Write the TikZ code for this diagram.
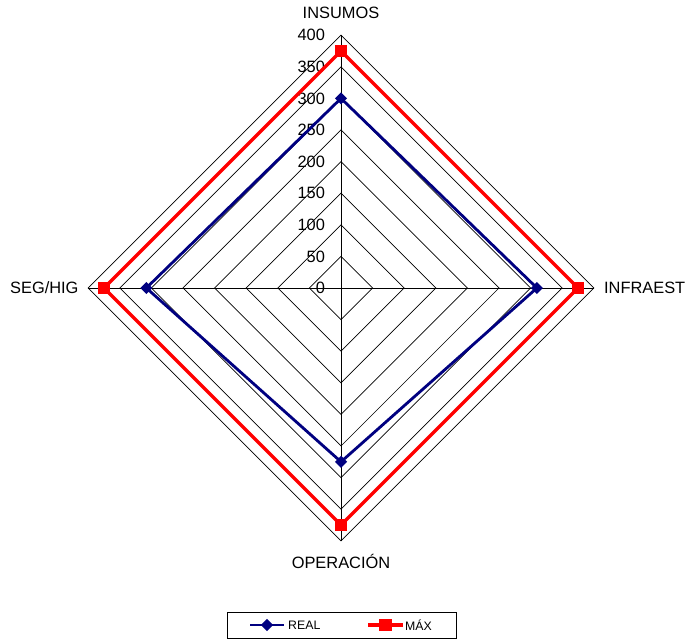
\documentclass[tikz,border=0pt]{standalone}
\usepackage{fontspec}
\setmainfont{Liberation Sans}
\usetikzlibrary{shapes.geometric}
\definecolor{realblue}{RGB}{0,0,128}
\begin{document}
\begin{tikzpicture}
    [x=0.03cm, y=0.03cm,
    grid/.style={black, line width=0.6pt},
    real/.style={realblue, line width=2.4pt, line join=round},
    maxline/.style={red, line width=2.8pt, line join=round},
    realmark/.style={diamond, fill=realblue, inner sep=0pt, minimum width=10.5pt, minimum height=10.5pt},
    maxmark/.style={rectangle, fill=red, inner sep=0pt, minimum size=11pt},
    axislabel/.style={font=\fontsize{14}{16}\selectfont, inner sep=0pt},
    ticklabel/.style={font=\fontsize{14}{16}\selectfont, inner sep=0pt, anchor=east},
    legendlabel/.style={font=\fontsize{10.5}{12}\selectfont, inner sep=0pt, anchor=west}]

    \useasboundingbox (0,0) rectangle (689,640);

    \begin{scope}[shift={(341,352)}, scale=0.632]
        % diamond grid, one ring every 50
        \foreach \r in {50,100,...,400}
            \draw[grid] (0,\r) -- (\r,0) -- (0,-\r) -- (-\r,0) -- cycle;
        \draw[grid] (0,400) -- (0,-400);
        \draw[grid] (-400,0) -- (400,0);

        % scale values
        \foreach \r in {0,50,...,400}
            \node[ticklabel] (t\r) at (-25,\r) {\r};

        % axis names
        \node[axislabel] (insumos) at (0,435) {INSUMOS};
        \node[axislabel, anchor=west] (infraest) at (416,0) {INFRAEST};
        \node[axislabel] (operacion) at (0,-432) {OPERACIÓN};
        \node[axislabel, anchor=east] (seghig) at (-415,0) {SEG/HIG};

        % data
        \coordinate (r1) at (0,300);
        \coordinate (r2) at (310,0);
        \coordinate (r3) at (0,-275);
        \coordinate (r4) at (-308,0);
        \coordinate (m1) at (0,375);
        \coordinate (m2) at (375,0);
        \coordinate (m3) at (0,-375);
        \coordinate (m4) at (-375,0);

        \draw[real] (r1) -- (r2) -- (r3) -- (r4) -- cycle;
        \draw[maxline] (m1) -- (m2) -- (m3) -- (m4) -- cycle;
        \foreach \i in {1,...,4} {
            \node[realmark] (rm\i) at (r\i) {};
            \node[maxmark] (mm\i) at (m\i) {};
        }
    \end{scope}

    % legend
    \draw[black, line width=0.7pt] (227,2) rectangle (456,28);
    \coordinate (lr1) at (250,15);
    \coordinate (lr2) at (284,15);
    \coordinate (lm1) at (368,15);
    \coordinate (lm2) at (403,15);
    \draw[real] (lr1) -- (lr2);
    \draw[maxline] (lm1) -- (lm2);
    \node[realmark] (lrm) at (267,15) {};
    \node[maxmark] (lmm) at (385.5,15) {};
    \node[legendlabel] (lreal) at (288,15) {REAL};
    \node[legendlabel] (lmax) at (405,15) {MÁX};

\end{tikzpicture}
\end{document}
